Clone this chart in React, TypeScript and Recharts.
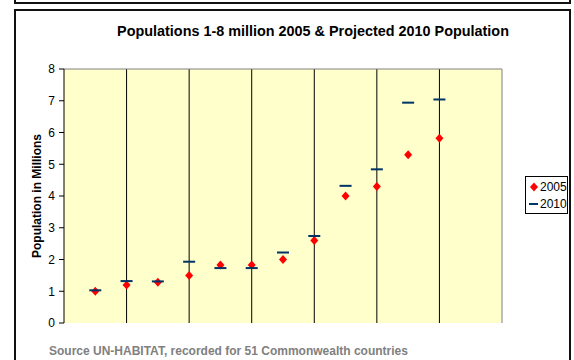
import { ScatterChart, Scatter, XAxis, YAxis, CartesianGrid, ReferenceLine, Legend } from 'recharts';

const cityIndex = [1, 2, 3, 4, 5, 6, 7, 8, 9, 10, 11, 12];
const pop2005 = [1.0, 1.2, 1.28, 1.5, 1.83, 1.83, 2.0, 2.6, 4.0, 4.3, 5.3, 5.82];
const pop2010 = [1.03, 1.32, 1.31, 1.93, 1.73, 1.73, 2.22, 2.74, 4.32, 4.84, 6.94, 7.04];
const yTicks = [0, 1, 2, 3, 4, 5, 6, 7, 8];
const xGridTicks = [2, 4, 6, 8, 10, 12];

const FONT = '"Liberation Sans", Arial, sans-serif';

const rows2005 = cityIndex.map((x, i) => ({ x, y: pop2005[i] }));
const rows2010 = cityIndex.map((x, i) => ({ x, y: pop2010[i] }));

const Diamond = (props: any) => {
  const { cx, cy } = props;
  return (
    <polygon
      points={`${cx},${cy - 4.5} ${cx + 4},${cy} ${cx},${cy + 4.5} ${cx - 4},${cy}`}
      fill="#FF0000"
    />
  );
};

const Dash = (props: any) => {
  const { cx, cy } = props;
  return <rect x={cx - 6} y={cy - 1} width={12} height={2} fill="#003366" />;
};

const LegendBox = () => (
  <div
    style={{
      width: 43,
      height: 38,
      border: '1px solid #000',
      background: '#fff',
      fontFamily: FONT,
      fontSize: 12,
      color: '#000',
      boxSizing: 'border-box',
      paddingTop: 2,
    }}
  >
    <div style={{ display: 'flex', alignItems: 'center', height: 16 }}>
      <svg width={14} height={12}>
        <polygon points="8,1.5 12,6 8,10.5 4,6" fill="#FF0000" />
      </svg>
      <span>2005</span>
    </div>
    <div style={{ display: 'flex', alignItems: 'center', height: 18 }}>
      <svg width={14} height={12}>
        <rect x={3} y={5} width={9} height={2} fill="#003366" />
      </svg>
      <span>2010</span>
    </div>
  </div>
);

const AxisTitle = (props: any) => {
  const { viewBox } = props;
  const x = viewBox.x + 41;
  const y = viewBox.y + viewBox.height / 2;
  return (
    <text
      x={x}
      y={y}
      transform={`rotate(-90, ${x}, ${y})`}
      textAnchor="middle"
      fontFamily={FONT}
      fontSize={12}
      fontWeight="bold"
      fill="#000"
    >
      Population in Millions
    </text>
  );
};

export default function App() {
  return (
    <div style={{ position: 'absolute', left: 0, top: 0, width: 574, height: 360, overflow: 'hidden', background: '#fff' }}>
      <div style={{ position: 'absolute', left: 14, top: -60, width: 557, height: 64, border: '2px solid #111', boxSizing: 'border-box' }} />
      <div style={{ position: 'absolute', left: 14, top: 9, width: 557, height: 400, border: '2px solid #111', boxSizing: 'border-box' }} />
      <div
        style={{
          position: 'absolute',
          left: 63,
          top: 22,
          width: 500,
          textAlign: 'center',
          fontFamily: FONT,
          fontSize: 14.4,
          fontWeight: 'bold',
          lineHeight: '18px',
        }}
      >
        Populations 1-8 million 2005 &amp; Projected 2010 Population
      </div>
      <div
        style={{
          position: 'absolute',
          left: 49,
          top: 344,
          fontFamily: FONT,
          fontSize: 12,
          fontWeight: 'bold',
          color: '#808080',
          lineHeight: '14px',
          whiteSpace: 'nowrap',
        }}
      >
        Source UN-HABITAT, recorded for 51 Commonwealth countries
      </div>
      <div style={{ position: 'absolute', left: 0, top: 0 }}>
        <ScatterChart width={574} height={360} margin={{ top: 69, right: 72, bottom: 37, left: 0 }}>
          <CartesianGrid horizontal={false} vertical={false} fill="#FFFFCC" fillOpacity={1} />
          <XAxis
            type="number"
            dataKey="x"
            domain={[0, 14]}
            ticks={xGridTicks}
            tick={false}
            tickLine={false}
            axisLine={{ stroke: '#808080' }}
            height={0}
          />
          <YAxis
            type="number"
            dataKey="y"
            domain={[0, 8]}
            ticks={yTicks}
            interval={0}
            width={64}
            tickSize={5}
            tickMargin={4}
            axisLine={{ stroke: '#000' }}
            tickLine={{ stroke: '#000' }}
            tick={{ fill: '#000', fontSize: 12, fontFamily: FONT }}
            label={<AxisTitle />}
          />
          {xGridTicks.map((t) => (
            <ReferenceLine key={t} x={t} stroke="#000" />
          ))}
          <ReferenceLine y={8} stroke="#808080" />
          <ReferenceLine x={14} stroke="#808080" />
          <Legend
            layout="horizontal"
            verticalAlign="middle"
            align="center"
            content={<LegendBox />}
            wrapperStyle={{ left: 525, top: 176, width: 43 }}
          />
          <Scatter name="2005" data={rows2005} shape={<Diamond />} isAnimationActive={false} />
          <Scatter name="2010" data={rows2010} shape={<Dash />} isAnimationActive={false} />
        </ScatterChart>
      </div>
    </div>
  );
}
